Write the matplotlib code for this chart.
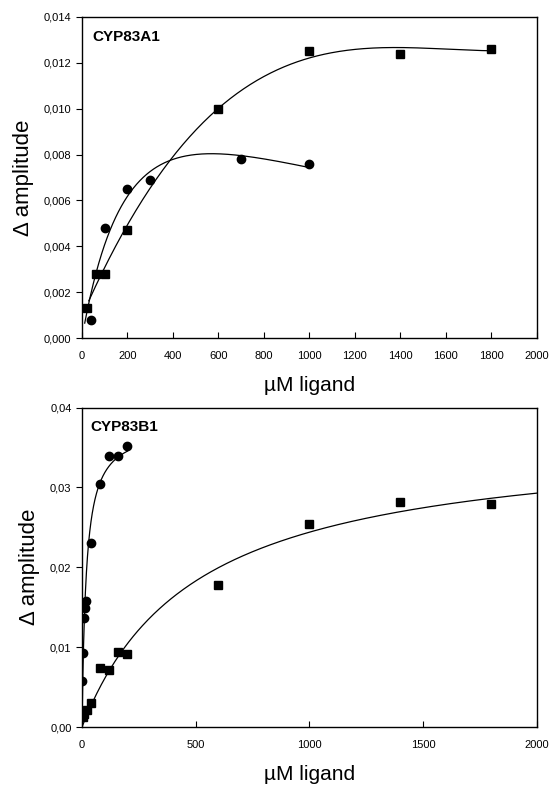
import numpy as np
import matplotlib.pyplot as plt
from matplotlib.ticker import FuncFormatter, MultipleLocator

plt.rcParams['font.family'] = ['Liberation Sans', 'DejaVu Sans']

# ----------------------------
# Data
# ----------------------------
# CYP83A1 (top panel)
a1_sq_x = [20, 60, 100, 200, 600, 1000, 1400, 1800]
a1_sq_y = [0.0013, 0.0028, 0.0028, 0.0047, 0.0100, 0.0125, 0.0124, 0.0126]
a1_ci_x = [40, 100, 200, 300, 700, 1000]
a1_ci_y = [0.0008, 0.0048, 0.0065, 0.0069, 0.0078, 0.0076]

# CYP83B1 (bottom panel)
b1_ci_x = [2, 5, 8, 12, 16, 40, 80, 120, 160, 200]
b1_ci_y = [0.0058, 0.0093, 0.0137, 0.0149, 0.0158, 0.0230, 0.0304, 0.0339, 0.0339, 0.0352]
b1_sq_x = [5, 10, 20, 40, 80, 120, 160, 200, 600, 1000, 1400, 1800]
b1_sq_y = [0.0012, 0.0016, 0.0021, 0.0030, 0.0074, 0.0072, 0.0094, 0.0091,
           0.0178, 0.0254, 0.0282, 0.0279]


def poly_curve(x, y, deg, x0, x1):
    """Polynomial least-squares fit evaluated on [x0, x1]."""
    c = np.polyfit(x, y, deg)
    xs = np.linspace(x0, x1, 300)
    return xs, np.polyval(c, xs)


def hyperbola_curve(x, y, x0, x1):
    """Fit y = V*x/(K+x): scan K, solve V by least squares."""
    x = np.asarray(x, float)
    y = np.asarray(y, float)
    best = None
    for k in np.linspace(1, 2000, 4000):
        f = x / (k + x)
        v = np.dot(f, y) / np.dot(f, f)
        err = np.sum((y - v * f) ** 2)
        if best is None or err < best[0]:
            best = (err, v, k)
    _, v, k = best
    xs = np.linspace(x0, x1, 400)
    return xs, v * xs / (k + xs)


def inhibition_curve(x, y, x0, x1):
    """Fit y = V*x/(K + x + x^2/Ki) (substrate inhibition) by grid scan."""
    x = np.asarray(x, float)
    y = np.asarray(y, float)
    best = None
    for k in np.linspace(5, 1500, 300):
        for ki in np.geomspace(50, 20000, 300):
            f = x / (k + x + x ** 2 / ki)
            v = np.dot(f, y) / np.dot(f, f)
            err = np.sum((y - v * f) ** 2)
            if best is None or err < best[0]:
                best = (err, v, k, ki)
    _, v, k, ki = best
    xs = np.linspace(x0, x1, 400)
    return xs, v * xs / (k + xs + xs ** 2 / ki)


def comma_fmt(decimals):
    return FuncFormatter(lambda v, p: f"{v:.{decimals}f}".replace('.', ','))


def style_axes(ax):
    for s in ax.spines.values():
        s.set_linewidth(1.0)
    ax.tick_params(axis='x', direction='in', length=4, labelsize=8, pad=9)
    ax.tick_params(axis='y', direction='out', length=4, labelsize=8)
    ax.set_xlim(0, 2000)
    ax.set_ylabel('\u0394 amplitude', fontsize=16, labelpad=7)
    ax.set_xlabel('\u00b5M ligand', fontsize=15, labelpad=11)


fig = plt.figure(figsize=(5.54, 7.87), dpi=100)

# ---- top panel ----
ax1 = fig.add_axes([0.148, 0.5705, 0.821, 0.408])
xs, ys = poly_curve(a1_sq_x, a1_sq_y, 3, 30, 1800)
ax1.plot(xs, ys, color='black', lw=0.9)
xs, ys = inhibition_curve(a1_ci_x, a1_ci_y, 12, 1000)
ax1.plot(xs, ys, color='black', lw=0.9)
ax1.plot(a1_sq_x, a1_sq_y, 's', color='black', ms=6)
ax1.plot(a1_ci_x, a1_ci_y, 'o', color='black', ms=6)
ax1.set_ylim(0, 0.014)
ax1.xaxis.set_major_locator(MultipleLocator(200))
ax1.yaxis.set_major_locator(MultipleLocator(0.002))
ax1.yaxis.set_major_formatter(comma_fmt(3))
style_axes(ax1)
ax1.text(0.022, 0.937, 'CYP83A1', transform=ax1.transAxes, fontsize=11,
         fontweight='bold', va='center', ha='left')

# ---- bottom panel ----
ax2 = fig.add_axes([0.148, 0.0762, 0.821, 0.406])
xs, ys = hyperbola_curve(b1_ci_x, b1_ci_y, 0, 200)
ax2.plot(xs, ys, color='black', lw=0.9)
xs, ys = hyperbola_curve(b1_sq_x, b1_sq_y, 0, 2000)
ax2.plot(xs, ys, color='black', lw=0.9)
ax2.plot(b1_sq_x, b1_sq_y, 's', color='black', ms=6)
ax2.plot(b1_ci_x, b1_ci_y, 'o', color='black', ms=6)
ax2.set_ylim(0, 0.04)
ax2.xaxis.set_major_locator(MultipleLocator(500))
ax2.yaxis.set_major_locator(MultipleLocator(0.01))
ax2.yaxis.set_major_formatter(comma_fmt(2))
style_axes(ax2)
ax2.text(0.018, 0.94, 'CYP83B1', transform=ax2.transAxes, fontsize=11,
         fontweight='bold', va='center', ha='left')

fig.savefig('out.png', dpi=100)
